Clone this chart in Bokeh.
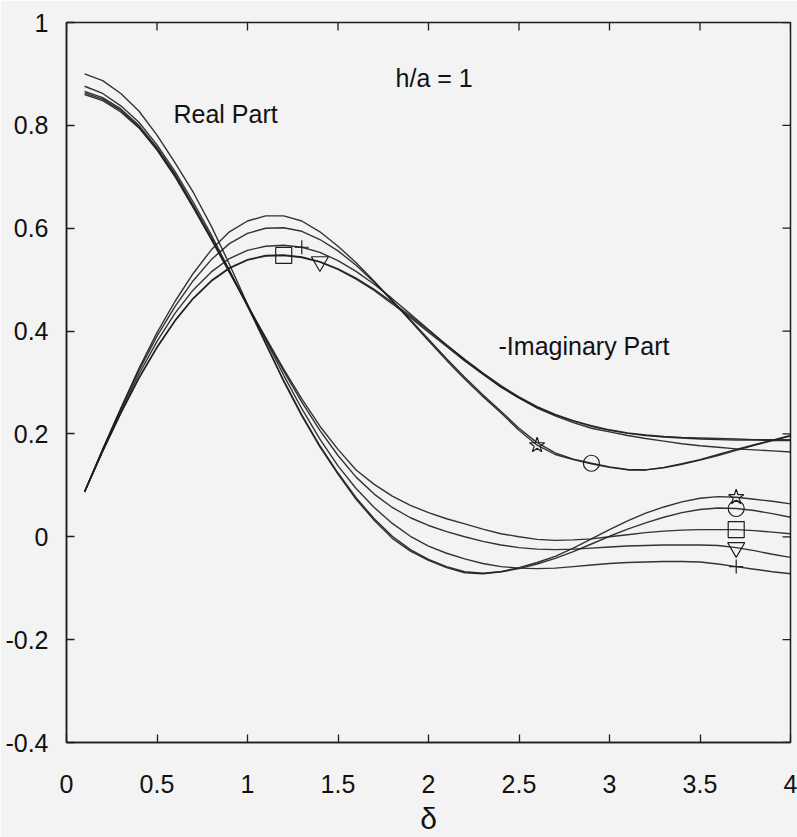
from bokeh.plotting import figure
from bokeh.models import Range1d, FixedTicker, Label
from bokeh.embed import file_html
from bokeh.resources import INLINE

# Non-dimensional frequency delta
delta = [0.1, 0.2, 0.3, 0.4, 0.5, 0.6, 0.7, 0.8, 0.9, 1.0,
         1.1, 1.2, 1.3, 1.4, 1.5, 1.6, 1.7, 1.8, 1.9, 2.0,
         2.1, 2.2, 2.3, 2.4, 2.5, 2.6, 2.7, 2.8, 2.9, 3.0,
         3.1, 3.2, 3.3, 3.4, 3.5, 3.6, 3.7, 3.8, 3.9, 4.0]

# Real part, one curve per case
real_star = [0.900, 0.887, 0.862, 0.828, 0.781, 0.727, 0.670, 0.604, 0.530, 0.452,
             0.376, 0.302, 0.235, 0.175, 0.122, 0.073, 0.032, -0.003, -0.028, -0.046,
             -0.060, -0.070, -0.072, -0.068, -0.060, -0.050, -0.038, -0.022, -0.004, 0.014,
             0.031, 0.046, 0.058, 0.068, 0.075, 0.078, 0.077, 0.073, 0.069, 0.064]
real_circle = [0.876, 0.862, 0.838, 0.806, 0.762, 0.710, 0.651, 0.587, 0.518, 0.448,
               0.376, 0.304, 0.237, 0.177, 0.124, 0.076, 0.035, 0.001, -0.025, -0.044,
               -0.058, -0.068, -0.071, -0.068, -0.062, -0.053, -0.042, -0.029, -0.014, 0.001,
               0.015, 0.027, 0.038, 0.047, 0.053, 0.056, 0.055, 0.051, 0.045, 0.038]
real_square = [0.860, 0.848, 0.826, 0.795, 0.752, 0.700, 0.640, 0.578, 0.514, 0.450,
               0.388, 0.326, 0.268, 0.215, 0.170, 0.130, 0.102, 0.079, 0.061, 0.047,
               0.035, 0.025, 0.015, 0.006, 0.000, -0.005, -0.007, -0.006, -0.004, 0.000,
               0.004, 0.008, 0.011, 0.013, 0.014, 0.014, 0.014, 0.012, 0.009, 0.006]
real_triangle = [0.863, 0.851, 0.829, 0.797, 0.754, 0.702, 0.642, 0.579, 0.515, 0.450,
                 0.386, 0.322, 0.262, 0.207, 0.158, 0.116, 0.083, 0.057, 0.037, 0.022,
                 0.010, 0.000, -0.009, -0.016, -0.021, -0.024, -0.025, -0.024, -0.022, -0.020,
                 -0.018, -0.017, -0.016, -0.016, -0.016, -0.017, -0.021, -0.027, -0.034, -0.040]
real_plus = [0.866, 0.854, 0.832, 0.800, 0.757, 0.705, 0.645, 0.582, 0.517, 0.451,
             0.383, 0.314, 0.249, 0.190, 0.138, 0.094, 0.057, 0.026, 0.001, -0.018,
             -0.032, -0.043, -0.052, -0.058, -0.061, -0.062, -0.061, -0.058, -0.055, -0.052,
             -0.050, -0.049, -0.048, -0.048, -0.049, -0.053, -0.058, -0.063, -0.068, -0.072]

# Negative imaginary part, one curve per case
imag_star = [0.087, 0.170, 0.250, 0.327, 0.397, 0.458, 0.512, 0.558, 0.593, 0.614,
             0.624, 0.624, 0.614, 0.593, 0.565, 0.533, 0.497, 0.459, 0.420, 0.381,
             0.343, 0.307, 0.273, 0.241, 0.207, 0.178, 0.160, 0.150, 0.142, 0.135,
             0.130, 0.130, 0.135, 0.142, 0.150, 0.160, 0.170, 0.179, 0.188, 0.197]
imag_circle = [0.088, 0.170, 0.249, 0.323, 0.390, 0.448, 0.498, 0.539, 0.570, 0.590,
               0.600, 0.601, 0.594, 0.578, 0.556, 0.528, 0.495, 0.459, 0.422, 0.384,
               0.346, 0.310, 0.276, 0.244, 0.211, 0.183, 0.163, 0.151, 0.143, 0.136,
               0.131, 0.130, 0.134, 0.141, 0.149, 0.158, 0.168, 0.178, 0.187, 0.196]
imag_square = [0.087, 0.166, 0.240, 0.308, 0.368, 0.420, 0.463, 0.497, 0.522, 0.538,
               0.546, 0.547, 0.543, 0.534, 0.520, 0.501, 0.479, 0.453, 0.426, 0.398,
               0.370, 0.342, 0.316, 0.291, 0.270, 0.250, 0.235, 0.222, 0.211, 0.204,
               0.197, 0.191, 0.186, 0.181, 0.177, 0.174, 0.171, 0.169, 0.167, 0.165]
imag_triangle = [0.087, 0.167, 0.241, 0.309, 0.369, 0.421, 0.464, 0.498, 0.523, 0.539,
                 0.547, 0.548, 0.544, 0.535, 0.521, 0.503, 0.481, 0.456, 0.429, 0.401,
                 0.373, 0.345, 0.319, 0.294, 0.272, 0.253, 0.238, 0.226, 0.216, 0.208,
                 0.202, 0.198, 0.195, 0.193, 0.192, 0.191, 0.190, 0.189, 0.189, 0.189]
imag_plus = [0.088, 0.168, 0.245, 0.316, 0.380, 0.435, 0.480, 0.515, 0.541, 0.557,
             0.565, 0.567, 0.563, 0.553, 0.537, 0.516, 0.491, 0.463, 0.433, 0.403,
             0.373, 0.344, 0.317, 0.292, 0.270, 0.252, 0.237, 0.225, 0.215, 0.207,
             0.201, 0.197, 0.194, 0.192, 0.190, 0.189, 0.188, 0.188, 0.187, 0.187]

# Marker symbol per case and the delta at which each curve is tagged
case_markers = ["star", "circle", "square", "inverted_triangle", "cross"]
marker_sizes = [16, 16, 16, 17, 14]
real_tag_delta = [3.7, 3.7, 3.7, 3.7, 3.7]
imag_tag_delta = [2.6, 2.9, 1.2, 1.4, 1.3]

x_ticks = [0, 0.5, 1, 1.5, 2, 2.5, 3, 3.5, 4]
x_tick_labels = ["0", "0.5", "1", "1.5", "2", "2.5", "3", "3.5", "4"]
y_ticks = [-0.4, -0.2, 0, 0.2, 0.4, 0.6, 0.8, 1]
y_tick_labels = ["-0.4", "-0.2", "0", "0.2", "0.4", "0.6", "0.8", "1"]

X_MIN, X_MAX = 0, 4
Y_MIN, Y_MAX = -0.4, 1

FONT = "Liberation Sans"
INK = "#1e1e1e"
TEXT = "#111111"
PAPER = "#f3f3f3"

W, H = 797, 837
BORDER_L, BORDER_R, BORDER_T, BORDER_B = 66, 7, 22, 95
TICK_PX = 8

p = figure(width=W, height=H, x_range=Range1d(X_MIN, X_MAX), y_range=Range1d(Y_MIN, Y_MAX),
           output_backend="svg", toolbar_location=None,
           min_border_left=BORDER_L, min_border_right=BORDER_R,
           min_border_top=BORDER_T, min_border_bottom=BORDER_B)
p.background_fill_color = PAPER
p.border_fill_color = PAPER
p.grid.visible = False
p.outline_line_color = INK
p.outline_line_width = 1.5


def style_axis(ax, ticks, labels):
    ax.ticker = FixedTicker(ticks=ticks)
    ax.major_label_overrides = {t: s for t, s in zip(ticks, labels)}
    ax.major_tick_in = TICK_PX
    ax.major_tick_out = 0
    ax.minor_tick_line_color = None
    ax.axis_line_color = INK
    ax.axis_line_width = 1.5
    ax.major_tick_line_color = INK
    ax.major_tick_line_width = 1.3
    ax.major_label_text_font = FONT
    ax.major_label_text_color = TEXT
    ax.major_label_text_font_size = "25px"


style_axis(p.xaxis[0], x_ticks, x_tick_labels)
style_axis(p.yaxis[0], y_ticks, y_tick_labels)
p.xaxis[0].major_label_standoff = 32
p.yaxis[0].major_label_standoff = 18
p.xaxis[0].axis_label = "δ"
p.xaxis[0].axis_label_text_font = FONT
p.xaxis[0].axis_label_text_font_style = "normal"
p.xaxis[0].axis_label_text_font_size = "30px"
p.xaxis[0].axis_label_standoff = 6
p.xaxis[0].axis_label_text_color = TEXT

# Mirrored inward ticks along the top and right edges of the frame,
# with the tick length converted from pixels to data units
dy_tick = TICK_PX * (Y_MAX - Y_MIN) / (H - BORDER_T - BORDER_B)
dx_tick = TICK_PX * (X_MAX - X_MIN) / (W - BORDER_L - BORDER_R)
p.segment(x0=x_ticks, y0=[Y_MAX] * len(x_ticks),
          x1=x_ticks, y1=[Y_MAX - dy_tick] * len(x_ticks),
          line_color=INK, line_width=1.3)
p.segment(x0=[X_MAX] * len(y_ticks), y0=y_ticks,
          x1=[X_MAX - dx_tick] * len(y_ticks), y1=y_ticks,
          line_color=INK, line_width=1.3)

real_curves = [real_star, real_circle, real_square, real_triangle, real_plus]
imag_curves = [imag_star, imag_circle, imag_square, imag_triangle, imag_plus]

for curves, tags in ((real_curves, real_tag_delta), (imag_curves, imag_tag_delta)):
    for ys, marker, size, tag in zip(curves, case_markers, marker_sizes, tags):
        p.line(delta, ys, line_color=INK, line_width=1.4, line_alpha=0.9)
        k = delta.index(tag)
        p.scatter([delta[k]], [ys[k]], marker=marker, size=size,
                  fill_color=None, line_color=INK, line_width=1.2)

for txt, x, y in (("Real Part", 0.591, 0.822), ("h/a = 1", 1.818, 0.893),
                  ("-Imaginary Part", 2.387, 0.371)):
    p.add_layout(Label(x=x, y=y, text=txt, text_font=FONT, text_font_size="25px",
                       text_color=TEXT, text_baseline="alphabetic", text_align="left"))

open("out.html", "w").write(file_html(p, INLINE))
